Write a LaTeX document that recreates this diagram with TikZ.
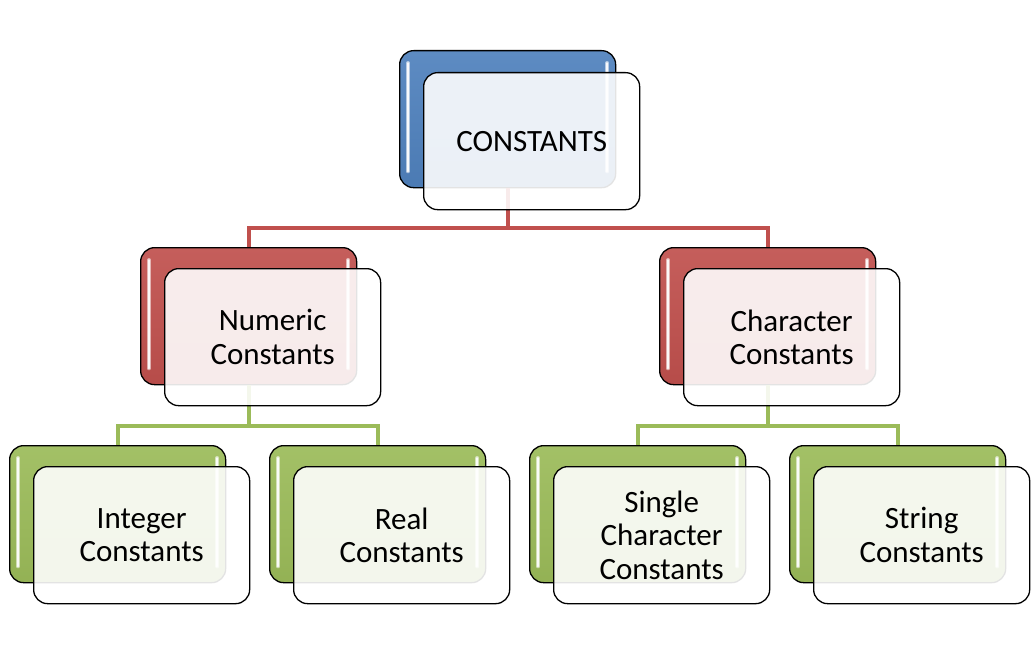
\documentclass[tikz,border=0pt]{standalone}
\usepackage{fontspec}
\setmainfont{Carlito}
\definecolor{cblue}{HTML}{4F81BD}
\definecolor{cred}{HTML}{C0504D}
\definecolor{cgreen}{HTML}{9BBB59}
\tikzset{
  backbox/.style={draw=black, line width=1.3pt, rounded corners=14pt,
    minimum width=216pt, minimum height=137pt, anchor=north west, inner sep=0pt,
    top color=#1!92!white, bottom color=#1!95!black},
  frontbox/.style={draw=black, line width=1.3pt, rounded corners=14pt,
    minimum width=216pt, minimum height=137pt, anchor=north west,
    fill=white, fill opacity=0.89, text opacity=1, text=black,
    align=center, font=\fontsize{31}{33.5}\selectfont, inner sep=0pt},
  gloss/.style={white, line width=4pt, line cap=round, opacity=0.55},
  glosscore/.style={white, line width=1.8pt, line cap=round, opacity=0.9},
  redline/.style={cred, line width=4pt},
  greenline/.style={cgreen, line width=4pt},
}
\newcommand{\glossify}[1]{%
  \draw[gloss] ([shift={(9pt,-13pt)}]#1.north west) -- ([shift={(9pt,17pt)}]#1.south west);
  \draw[gloss] ([shift={(-9pt,-13pt)}]#1.north east) -- ([shift={(-9pt,17pt)}]#1.south east);
  \draw[glosscore] ([shift={(9pt,-13pt)}]#1.north west) -- ([shift={(9pt,17pt)}]#1.south west);
  \draw[glosscore] ([shift={(-9pt,-13pt)}]#1.north east) -- ([shift={(-9pt,17pt)}]#1.south east);
}
\begin{document}
\begin{tikzpicture}[x=1pt,y=-1pt]
\useasboundingbox (0,0) rectangle (1032,655);
% back boxes
\node[backbox=cblue] (topB) at (399,50) {};
\node[backbox=cred] (numB) at (140,247) {};
\node[backbox=cred] (chrB) at (659,247) {};
\node[backbox=cgreen] (intB) at (9,445) {};
\node[backbox=cgreen] (reaB) at (269,445) {};
\node[backbox=cgreen] (sinB) at (529,445) {};
\node[backbox=cgreen] (strB) at (789,445) {};
\glossify{topB}\glossify{numB}\glossify{chrB}
\glossify{intB}\glossify{reaB}\glossify{sinB}\glossify{strB}
% connectors
\coordinate (rbar) at (0,228);
\coordinate (glbar) at (0,426);
\draw[redline] (topB.south) -- (topB.south |- rbar) -| (numB.north);
\draw[redline] (topB.south |- rbar) -| (chrB.north);
\draw[greenline] (numB.south) -- (numB.south |- glbar) -| (intB.north);
\draw[greenline] (numB.south |- glbar) -| (reaB.north);
\draw[greenline] (chrB.south) -- (chrB.south |- glbar) -| (sinB.north);
\draw[greenline] (chrB.south |- glbar) -| (strB.north);
% front boxes
\node[frontbox] (topF) at (423,72) {CONSTANTS};
\node[frontbox] (numF) at (164,268) {Numeric\\Constants};
\node[frontbox] (chrF) at (683,268) {Character\\Constants};
\node[frontbox] (intF) at (33,466) {Integer\\Constants};
\node[frontbox] (reaF) at (293,466) {Real\\Constants};
\node[frontbox] (sinF) at (553,466) {Single\\Character\\Constants};
\node[frontbox] (strF) at (813,466) {String\\Constants};
\end{tikzpicture}
\end{document}
